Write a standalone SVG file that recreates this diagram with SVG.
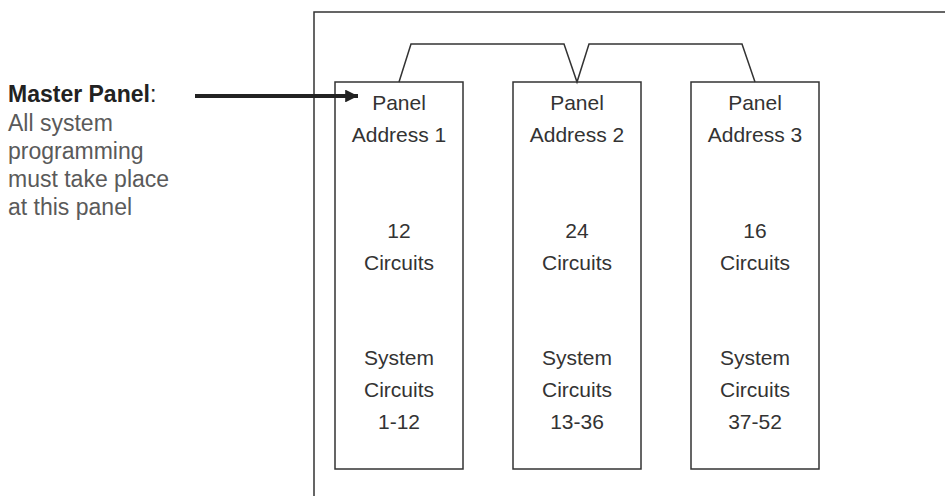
<svg xmlns="http://www.w3.org/2000/svg" width="945" height="496" viewBox="0 0 945 496">
<style>
.box{fill:#fff;stroke:#333;stroke-width:1.5}
.pt{font-family:"Liberation Sans",Arial,sans-serif;font-size:21px;fill:#333;text-anchor:middle}
.lt{font-family:"Liberation Sans",Arial,sans-serif;font-size:23px;fill:#5a5a5a}
.lb{font-family:"Liberation Sans",Arial,sans-serif;font-size:23px;fill:#222}
.wire{fill:none;stroke:#333;stroke-width:1.5}
</style>
<defs>
<marker id="ah" viewBox="0 0 10 10" refX="10" refY="5" markerWidth="6" markerHeight="3.2" orient="auto" markerUnits="strokeWidth">
<path d="M0,0 L10,5 L0,10 z" fill="#222"/>
</marker>
</defs>
<rect width="945" height="496" fill="#fff"/>
<g id="frame"><path class="wire" d="M945,12 H314 V496"/></g>
<g id="master-label">
<text class="lb" x="8" y="102"><tspan font-weight="bold">Master Panel</tspan>:</text>
<text class="lt" x="8" y="131">All system</text>
<text class="lt" x="8" y="159">programming</text>
<text class="lt" x="8" y="187">must take place</text>
<text class="lt" x="8" y="215">at this panel</text>
</g>
<g id="panel1">
<rect class="box" x="335" y="82" width="128" height="387"/>
<text class="pt" x="399" y="110">Panel</text>
<text class="pt" x="399" y="142">Address 1</text>
<text class="pt" x="399" y="238">12</text>
<text class="pt" x="399" y="270">Circuits</text>
<text class="pt" x="399" y="365">System</text>
<text class="pt" x="399" y="397">Circuits</text>
<text class="pt" x="399" y="429">1-12</text>
</g>
<g id="panel2">
<rect class="box" x="513" y="82" width="128" height="387"/>
<text class="pt" x="577" y="110">Panel</text>
<text class="pt" x="577" y="142">Address 2</text>
<text class="pt" x="577" y="238">24</text>
<text class="pt" x="577" y="270">Circuits</text>
<text class="pt" x="577" y="365">System</text>
<text class="pt" x="577" y="397">Circuits</text>
<text class="pt" x="577" y="429">13-36</text>
</g>
<g id="panel3">
<rect class="box" x="691" y="82" width="128" height="387"/>
<text class="pt" x="755" y="110">Panel</text>
<text class="pt" x="755" y="142">Address 3</text>
<text class="pt" x="755" y="238">16</text>
<text class="pt" x="755" y="270">Circuits</text>
<text class="pt" x="755" y="365">System</text>
<text class="pt" x="755" y="397">Circuits</text>
<text class="pt" x="755" y="429">37-52</text>
</g>
<g id="connectors">
<path class="wire" d="M399,82 L411,44 H564 L577,82 L589,44 H742 L755,82"/>
<line x1="195" y1="96" x2="358" y2="96" stroke="#222" stroke-width="4" marker-end="url(#ah)"/>
</g>
</svg>
